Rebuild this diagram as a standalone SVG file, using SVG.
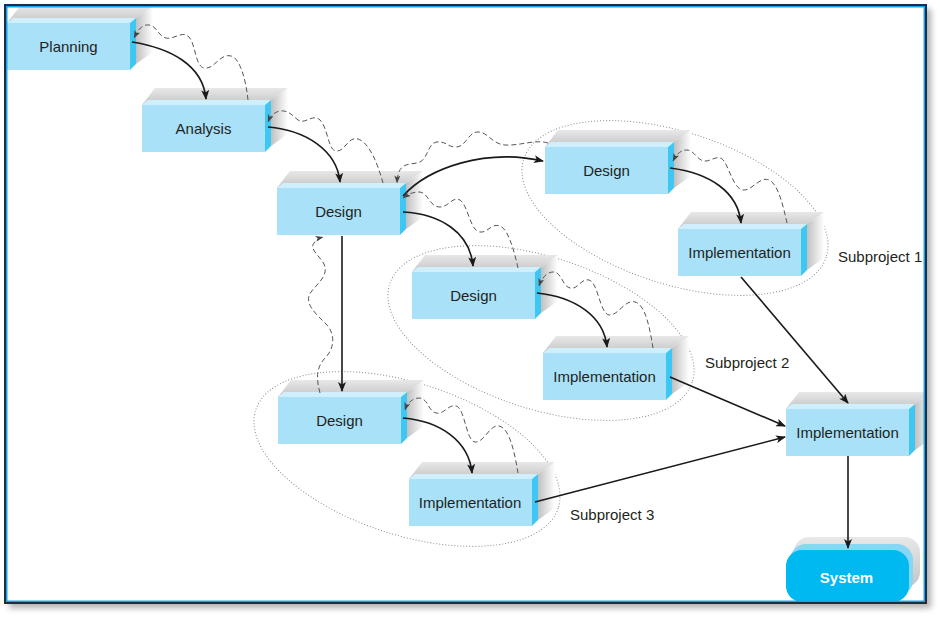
<svg xmlns="http://www.w3.org/2000/svg" width="941" height="617" viewBox="0 0 941 617">
<defs>
<style>
.lbl{font-family:"Liberation Sans",Arial,Helvetica,sans-serif;font-size:15px;fill:#231f20;text-anchor:middle}
.sub{font-family:"Liberation Sans",Arial,Helvetica,sans-serif;font-size:15px;fill:#231f20}
.sys{font-family:"Liberation Sans",Arial,Helvetica,sans-serif;font-size:15px;font-weight:bold;fill:#ffffff;text-anchor:middle}
.solid{fill:none;stroke:#1a1a1a;stroke-width:1.6;marker-end:url(#ah)}
.dash{fill:none;stroke:#555555;stroke-width:1;stroke-dasharray:5 3;marker-end:url(#dh)}
.ell{fill:none;stroke:#8a8a8a;stroke-width:1;stroke-dasharray:1 2}
</style>
<clipPath id="inside"><rect x="5" y="5" width="921" height="598"/></clipPath>
<linearGradient id="gT" x1="0" y1="0" x2="0" y2="1"><stop offset="0" stop-color="#e8e8e8"/><stop offset="1" stop-color="#c4c4c4"/></linearGradient>
<linearGradient id="gR" x1="0" y1="0" x2="1" y2="0"><stop offset="0" stop-color="#c0c0c0"/><stop offset="1" stop-color="#ffffff"/></linearGradient>
<filter id="blur" x="-5%" y="-5%" width="110%" height="110%"><feGaussianBlur stdDeviation="3"/></filter>
<marker id="ah" viewBox="0 0 10 8" refX="9" refY="4" markerWidth="10" markerHeight="8" orient="auto" markerUnits="userSpaceOnUse"><path d="M0,0 L10,4 L0,8 L2.5,4 z" fill="#1a1a1a"/></marker>
<marker id="dh" viewBox="0 0 8 6" refX="7.5" refY="3" markerWidth="8" markerHeight="6" orient="auto" markerUnits="userSpaceOnUse"><path d="M0,0 L8,3 L0,6 L2,3 z" fill="#444444"/></marker>
<g id="box">
<polygon points="0,5 13,-12 146,-12 129,0" fill="url(#gT)"/>
<polygon points="129,0 146,-12 146,34 129,46" fill="url(#gR)"/>
<rect x="0" y="5" width="123" height="47" fill="#a9e1f9"/>
<polygon points="0,5 6,0 129,0 123,5" fill="#d0effc"/>
<polygon points="123,5 129,0 129,46 123,52" fill="#3ec7f3"/>
</g>
</defs>

<g id="frame-bg">
<rect x="9" y="9" width="922" height="599" fill="#7a7a7a" opacity="0.6" filter="url(#blur)"/>
<rect x="5" y="5" width="921" height="598" fill="#ffffff"/>
</g>

<g id="content" clip-path="url(#inside)">
<g id="groups">
<ellipse class="ell" cx="675" cy="208" rx="159" ry="76" transform="rotate(18 675 208)"/>
<ellipse class="ell" cx="541" cy="333" rx="159" ry="76" transform="rotate(18 541 333)"/>
<ellipse class="ell" cx="407" cy="459" rx="159" ry="76" transform="rotate(18 407 459)"/>
<text class="sub" x="838" y="262">Subproject 1</text>
<text class="sub" x="705" y="368">Subproject 2</text>
<text class="sub" x="570" y="520">Subproject 3</text>
</g>

<g id="n-planning"><use href="#box" x="7" y="18"/><text class="lbl" x="68.5" y="51.5">Planning</text></g>
<g id="n-analysis"><use href="#box" x="142" y="100"/><text class="lbl" x="203.5" y="133.5">Analysis</text></g>
<g id="n-design"><use href="#box" x="277" y="183"/><text class="lbl" x="338.5" y="216.5">Design</text></g>
<g id="n-design1"><use href="#box" x="545" y="142"/><text class="lbl" x="606.5" y="175.5">Design</text></g>
<g id="n-impl1"><use href="#box" x="678" y="224"/><text class="lbl" x="739.5" y="257.5">Implementation</text></g>
<g id="n-design2"><use href="#box" x="412" y="267"/><text class="lbl" x="473.5" y="300.5">Design</text></g>
<g id="n-impl2"><use href="#box" x="543" y="348"/><text class="lbl" x="604.5" y="381.5">Implementation</text></g>
<g id="n-design3"><use href="#box" x="278" y="392"/><text class="lbl" x="339.5" y="425.5">Design</text></g>
<g id="n-impl3"><use href="#box" x="409" y="474"/><text class="lbl" x="470" y="507.5">Implementation</text></g>
<g id="n-impl"><use href="#box" x="786" y="404"/><text class="lbl" x="847.5" y="437.5">Implementation</text></g>
<g id="n-system">
<rect x="794" y="537" width="126" height="50" rx="15" fill="url(#gT)"/>
<rect x="790" y="544" width="123" height="52" rx="16" fill="#86d6f4"/>
<rect x="786" y="550" width="123" height="52" rx="16" fill="#00b9f1"/>
<text class="sys" x="846.5" y="583">System</text>
</g>

<g id="connectors">
<path class="solid" d="M132,42 C170,48 203,65 206,99"/>
<path class="solid" d="M268,127 C305,130 337,150 340,182"/>
<path class="solid" d="M403,196 C428,168 485,148 543,161"/>
<path class="solid" d="M403,212 C440,214 470,232 473,266"/>
<path class="solid" d="M342,236 L342,391"/>
<path class="solid" d="M670,168 C710,173 738,192 741,223"/>
<path class="solid" d="M537,293 C575,297 604,316 607,347"/>
<path class="solid" d="M403,418 C440,421 469,441 472,473"/>
<path class="solid" d="M741,277 L848,403"/>
<path class="solid" d="M670,377 L785,426"/>
<path class="solid" d="M535,502 L785,437"/>
<path class="solid" d="M848,456 L848,548"/>

<path class="dash" d="M248,100 C246,80 240,58 231,56 C220,53 214,70 204,68 C195,66 196,45 189,37 C182,30 174,40 166,38 C158,36 157,26 149,25 C141,24 137,32 134,38"/>
<path class="dash" d="M383,183 C378,165 370,143 358,139 C348,136 345,152 336,151 C328,150 328,128 320,120 C313,113 305,125 298,120 C292,115 288,110 280,111 C274,112 270,117 268,122"/>
<path class="dash" d="M548,143 C535,139 520,146 505,145 C492,144 488,132 478,132 C468,132 466,147 456,147 C447,147 446,141 437,142 C428,143 428,158 420,162 C410,166 398,160 397,183"/>
<path class="dash" d="M518,268 C514,250 508,229 500,226 C491,223 488,233 480,232 C470,231 468,205 460,200 C452,196 448,208 439,207 C429,206 428,192 419,192 C412,192 407,195 403,198"/>
<path class="dash" d="M787,223 C783,205 778,184 769,180 C760,176 752,191 743,190 C734,189 730,170 724,161 C718,153 711,162 704,161 C697,160 694,150 687,150 C680,150 676,155 673,161"/>
<path class="dash" d="M653,348 C650,330 646,305 635,302 C625,299 618,316 609,315 C600,314 598,282 589,280 C581,278 578,290 570,288 C562,286 562,272 553,272 C546,272 541,280 539,286"/>
<path class="dash" d="M518,473 C515,455 510,428 499,426 C490,424 484,443 475,442 C466,441 465,408 456,406 C448,404 444,415 436,413 C428,411 428,398 419,398 C412,398 407,404 405,410"/>
<path class="dash" d="M320,393 C316,378 316,367 326,357 C335,347 335,333 326,324 C316,314 303,303 311,292 C318,283 329,275 324,264 C319,255 309,249 314,243 C316,240 319,238 323,237"/>
</g>
</g>

<g id="frame">
<rect x="5" y="5" width="921" height="598" fill="none" stroke="#1b2d4a" stroke-width="2"/>
<rect x="6.75" y="6.75" width="917.5" height="594.5" fill="none" stroke="#12a6e6" stroke-width="1.5"/>
</g>
</svg>
